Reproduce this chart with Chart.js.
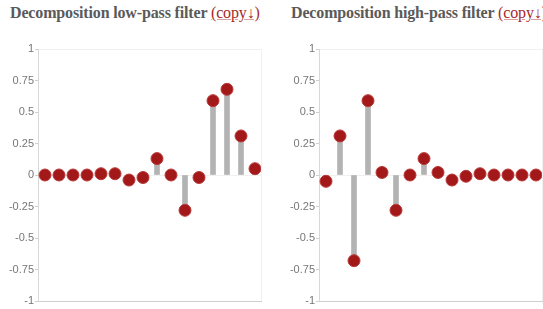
<!DOCTYPE html>
<html>
<head>
<meta charset="utf-8">
<script src="https://cdn.jsdelivr.net/npm/chart.js@4"></script>
<style>
  html, body { margin: 0; padding: 0; background: #fff; }
  body { width: 543px; height: 309px; position: relative; overflow: hidden; }
  .title {
    position: absolute; top: 4px; white-space: nowrap;
    font: bold 16px "Liberation Serif", serif; color: #5a5a5a; letter-spacing: -0.15px;
  }
  .title a { color: #a52a2a; font-weight: normal; text-decoration: underline; text-decoration-color: #d9a0a0; }
  .box { position: absolute; top: 38px; height: 271px; }
</style>
</head>
<body>
<div class="title" style="left:10px">Decomposition low-pass filter <a>(copy↓)</a></div>
<div class="title" style="left:291px">Decomposition high-pass filter <a>(copy↓)</a></div>
<div class="box" style="left:0; width:262px"><canvas id="lowChart"></canvas></div>
<div class="box" style="left:281px; width:262px"><canvas id="highChart"></canvas></div>
<script>
const taps = ["1","2","3","4","5","6","7","8","9","10","11","12","13","14","15","16"];
const lowPass  = [0, 0, 0, 0, 0.01, 0.01, -0.04, -0.02, 0.13, 0, -0.28, -0.02, 0.59, 0.68, 0.31, 0.05];
const highPass = [-0.05, 0.31, -0.68, 0.59, 0.02, -0.28, 0, 0.13, 0.02, -0.04, -0.01, 0.01, 0, 0, 0, 0];
const yTicks = [1, 0.75, 0.5, 0.25, 0, -0.25, -0.5, -0.75, -1];

// faint right border of the plot area
const frame = {
  id: "frame",
  afterDraw(chart) {
    const { ctx, chartArea: a } = chart;
    ctx.save();
    ctx.strokeStyle = "#f0f0f0";
    ctx.lineWidth = 1;
    ctx.beginPath();
    ctx.moveTo(a.right - 0.5, a.top);
    ctx.lineTo(a.right - 0.5, a.bottom);
    ctx.stroke();
    ctx.restore();
  }
};

function makeStem(id, values, axisWidth) {
  return new Chart(document.getElementById(id), {
    data: {
      labels: taps,
      datasets: [
        { type: "line", data: values, showLine: false, pointRadius: 6, pointHoverRadius: 6,
          pointBackgroundColor: "#a31818", pointBorderColor: "#b83a3a", pointBorderWidth: 1, order: 0 },
        { type: "bar", data: values, backgroundColor: "#b3b3b3", barThickness: 5, order: 1 }
      ]
    },
    options: {
      responsive: true, maintainAspectRatio: false, animation: false,
      layout: { autoPadding: false, padding: { top: 11, bottom: 8, right: 0, left: 0 } },
      plugins: { legend: { display: false }, tooltip: { enabled: false } },
      scales: {
        x: { display: false, offset: true },
        y: {
          min: -1, max: 1,
          afterFit: (s) => { s.width = axisWidth; },
          afterBuildTicks: (s) => { s.ticks = yTicks.map(v => ({ value: v })); },
          border: { display: true, color: "#d8d8d8" },
          grid: {
            drawTicks: true, tickLength: 3, tickColor: "#cfcfcf",
            color: (c) => c.tick && c.tick.value === -1 ? "#cfcfcf" : (c.tick && (c.tick.value === 1 || c.tick.value === 0) ? "#f0f0f0" : "rgba(0,0,0,0)")
          },
          ticks: {
            color: "#777", padding: 1,
            font: { family: "'Liberation Sans Narrow', 'Liberation Sans', sans-serif", size: 11 },
            callback: (v) => String(v)
          }
        }
      }
    },
    plugins: [frame]
  });
}

makeStem("lowChart", lowPass, 38);
makeStem("highChart", highPass, 38);
</script>
</body>
</html>
